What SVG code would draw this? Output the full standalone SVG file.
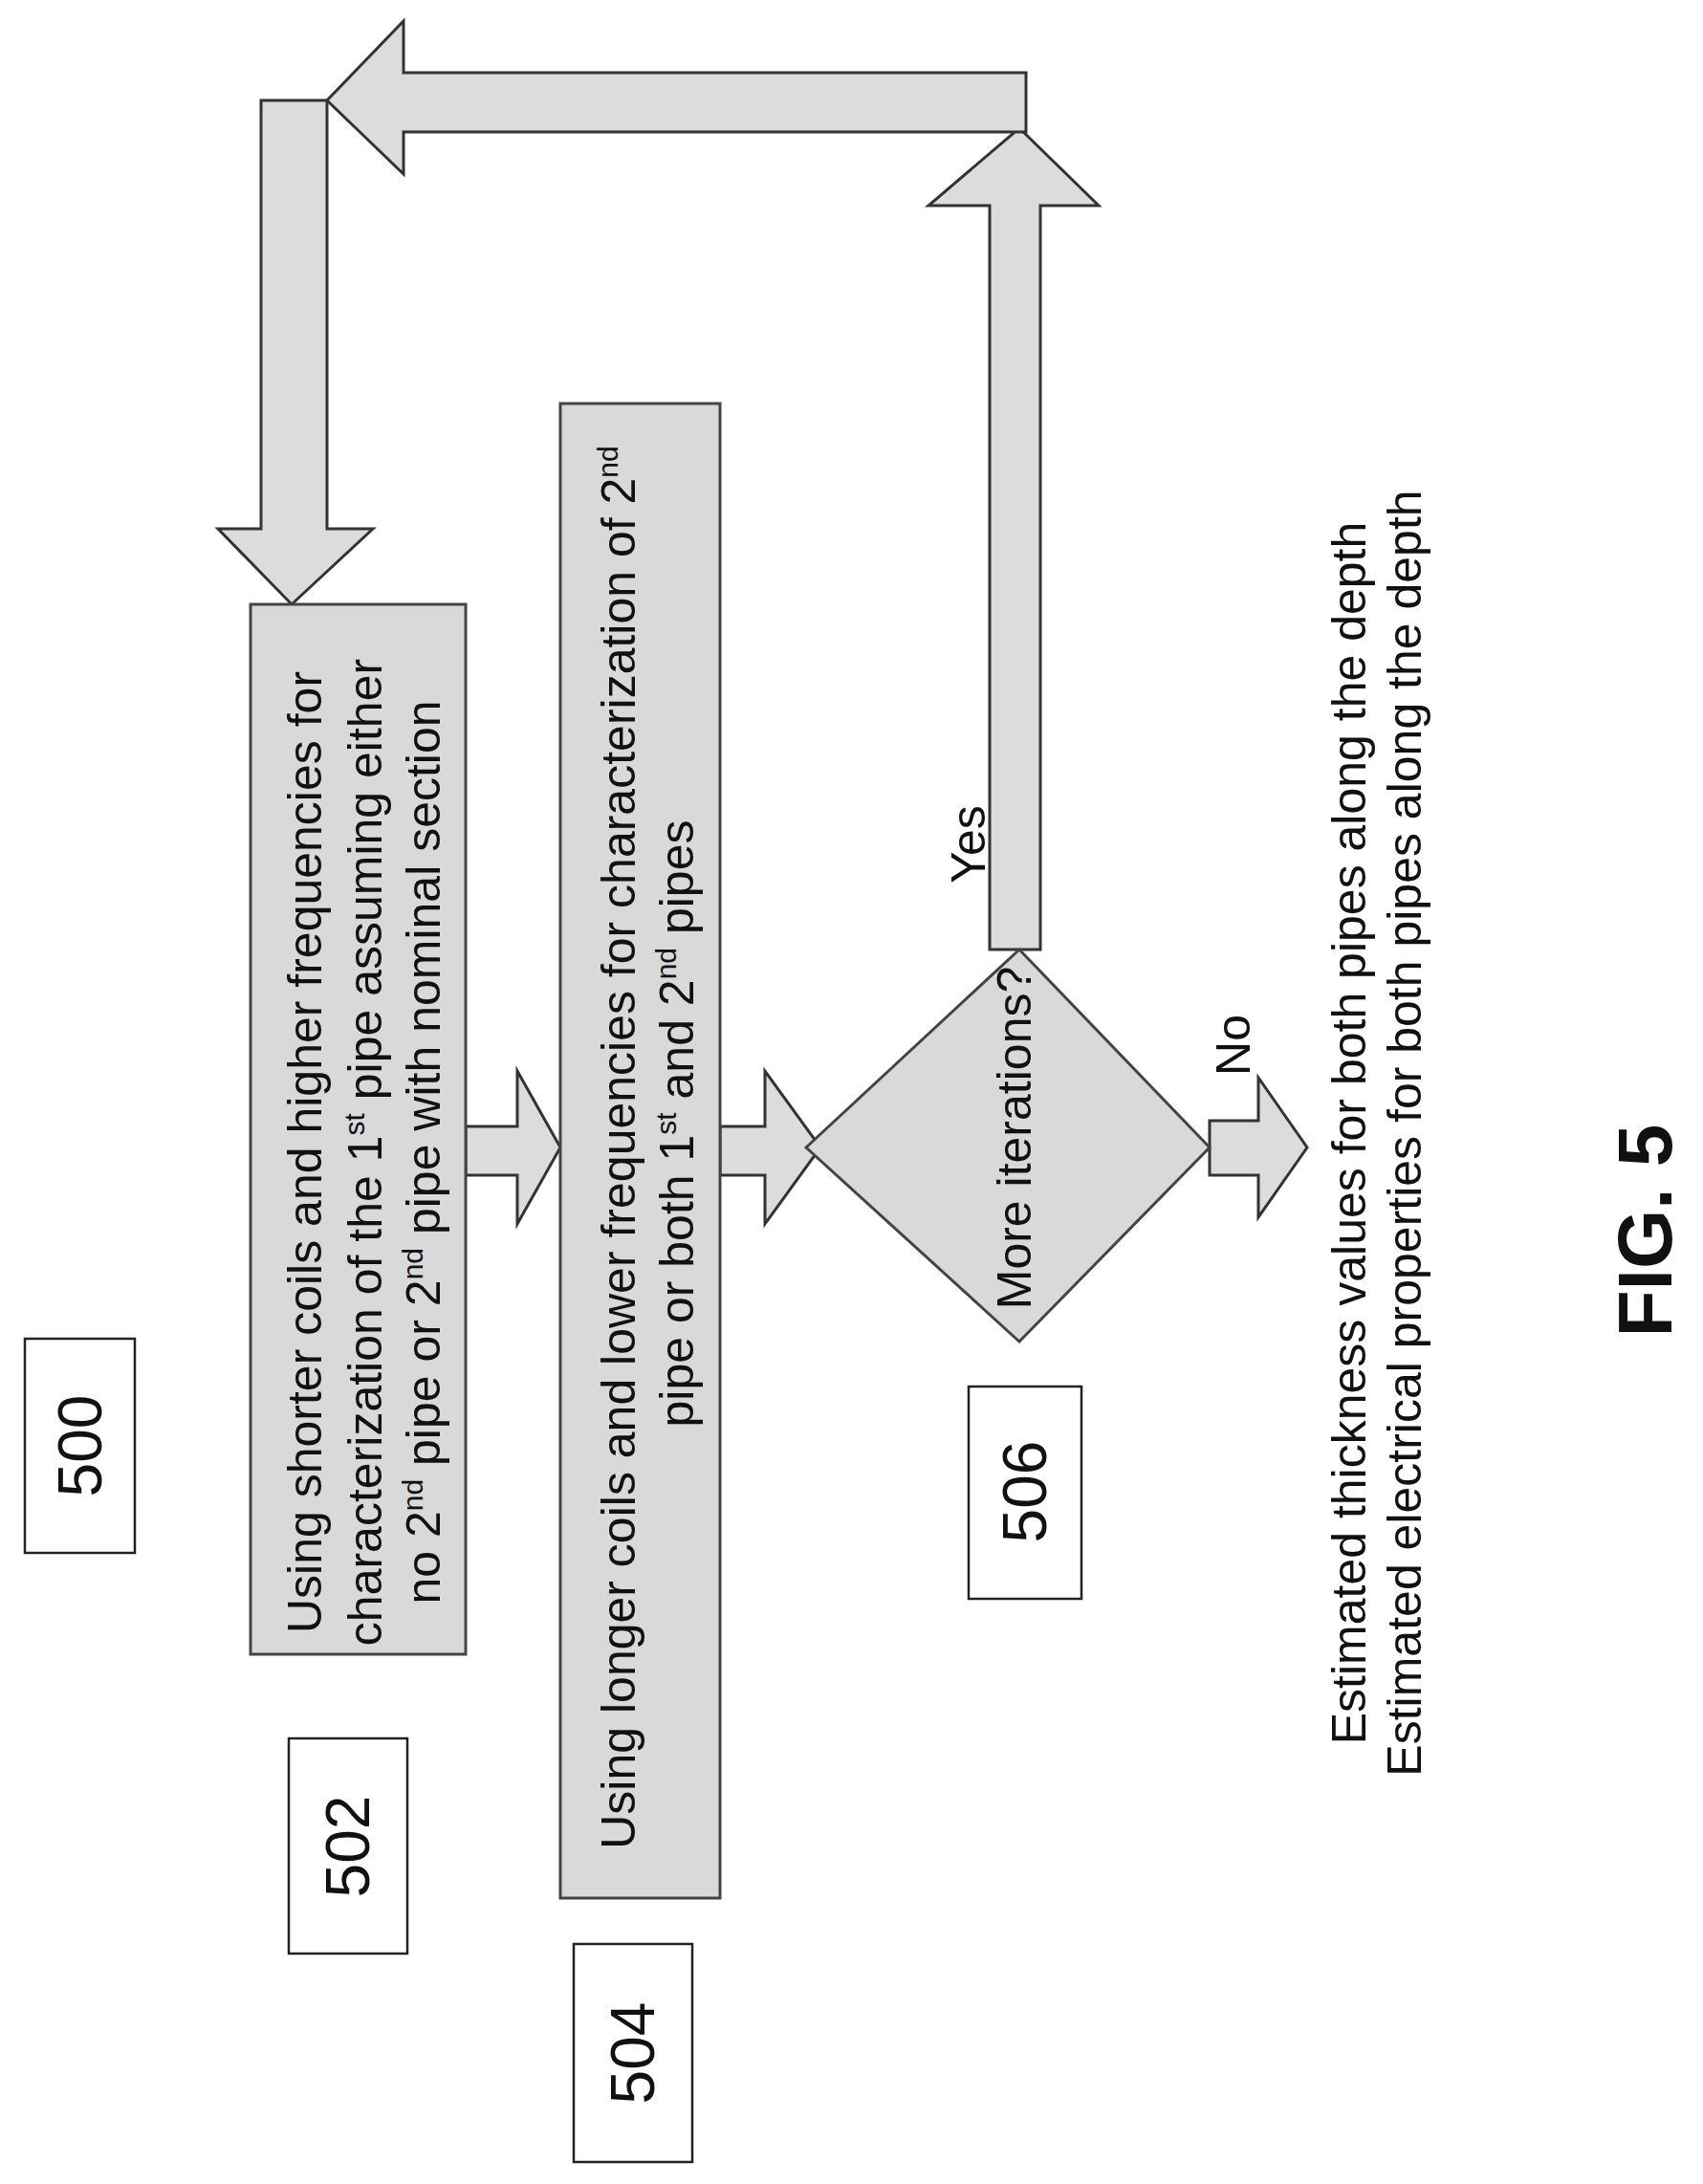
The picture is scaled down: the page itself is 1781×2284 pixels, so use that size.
<svg xmlns="http://www.w3.org/2000/svg" width="1781" height="2284" viewBox="0 0 1781 2284">
<style>
.n{fill:#d9d9d9;stroke:#444;stroke-width:3}
.a{fill:#dcdcdc;stroke:#333;stroke-width:3}
.lb{fill:#fff;stroke:#222;stroke-width:2.5}
text{font-family:"Liberation Sans",Arial,sans-serif;font-size:50px;fill:#111}
.big{font-size:64px}
.s{font-size:30px}
</style>
<rect width="1781" height="2284" fill="#fff"/>
<g id="connectors">
<polygon class="a" points="1035,993 1035,215 971,215 1066,134 1149,215 1088,215 1088,993"/>
<polygon class="a" points="1073,76 1073,138 422,138 422,182 342,105 422,22 422,76"/>
<polygon class="a" points="273,105 342,105 342,553 390,553 305,632 228,553 273,553"/>
<polygon class="a" points="487,1178 541,1178 541,1120 586,1200 541,1280 541,1229 487,1229"/>
<polygon class="a" points="753,1178 800,1178 800,1120 858,1200 800,1280 800,1229 753,1229"/>
<polygon class="a" points="1265,1172 1316,1172 1316,1127 1367,1200 1316,1273 1316,1229 1265,1229"/>
</g>
<g id="n500"><rect class="lb" x="26" y="1400" width="115" height="224"/><text class="big" transform="translate(106,1512) rotate(-90)" text-anchor="middle">500</text></g>
<g id="n502"><rect class="n" x="262" y="632" width="225" height="1098"/>
<text transform="translate(336,1205) rotate(-90)" text-anchor="middle">Using shorter coils and higher frequencies for</text>
<text transform="translate(399,1205) rotate(-90)" text-anchor="middle">characterization of the 1<tspan class="s" dy="-18">st</tspan><tspan dy="18"> pipe assuming either</tspan></text>
<text transform="translate(460,1205) rotate(-90)" text-anchor="middle">no 2<tspan class="s" dy="-18">nd</tspan><tspan dy="18"> pipe or 2</tspan><tspan class="s" dy="-18">nd</tspan><tspan dy="18"> pipe with nominal section</tspan></text>
</g>
<g id="l502"><rect class="lb" x="302" y="1818" width="124" height="225"/><text class="big" transform="translate(386,1931) rotate(-90)" text-anchor="middle">502</text></g>
<g id="n504"><rect class="n" x="586" y="422" width="167" height="1563"/>
<text transform="translate(664,1200) rotate(-90)" text-anchor="middle">Using longer coils and lower frequencies for characterization of 2<tspan class="s" dy="-18">nd</tspan></text>
<text transform="translate(725,1175) rotate(-90)" text-anchor="middle">pipe or both 1<tspan class="s" dy="-18">st</tspan><tspan dy="18"> and 2</tspan><tspan class="s" dy="-18">nd</tspan><tspan dy="18"> pipes</tspan></text>
</g>
<g id="l504"><rect class="lb" x="600" y="2033" width="124" height="228"/><text class="big" transform="translate(684,2147) rotate(-90)" text-anchor="middle">504</text></g>
<g id="n506"><polygon class="n" points="843,1200 1066,993 1265,1200 1066,1403"/>
<text transform="translate(1078,1190) rotate(-90)" text-anchor="middle">More iterations?</text></g>
<g id="l506"><rect class="lb" x="1013" y="1450" width="118" height="222"/><text class="big" transform="translate(1094,1560) rotate(-90)" text-anchor="middle">506</text></g>
<text transform="translate(1030,883) rotate(-90)" text-anchor="middle">Yes</text>
<text transform="translate(1307,1093) rotate(-90)" text-anchor="middle">No</text>
<g id="out">
<text transform="translate(1428,1185) rotate(-90)" text-anchor="middle">Estimated thickness values for both pipes along the depth</text>
<text transform="translate(1486,1185) rotate(-90)" text-anchor="middle">Estimated electrical properties for both pipes along the depth</text>
</g>
<text transform="translate(1748,1287) rotate(-90)" text-anchor="middle" style="font-size:80px;font-weight:bold">FIG. 5</text>
</svg>
